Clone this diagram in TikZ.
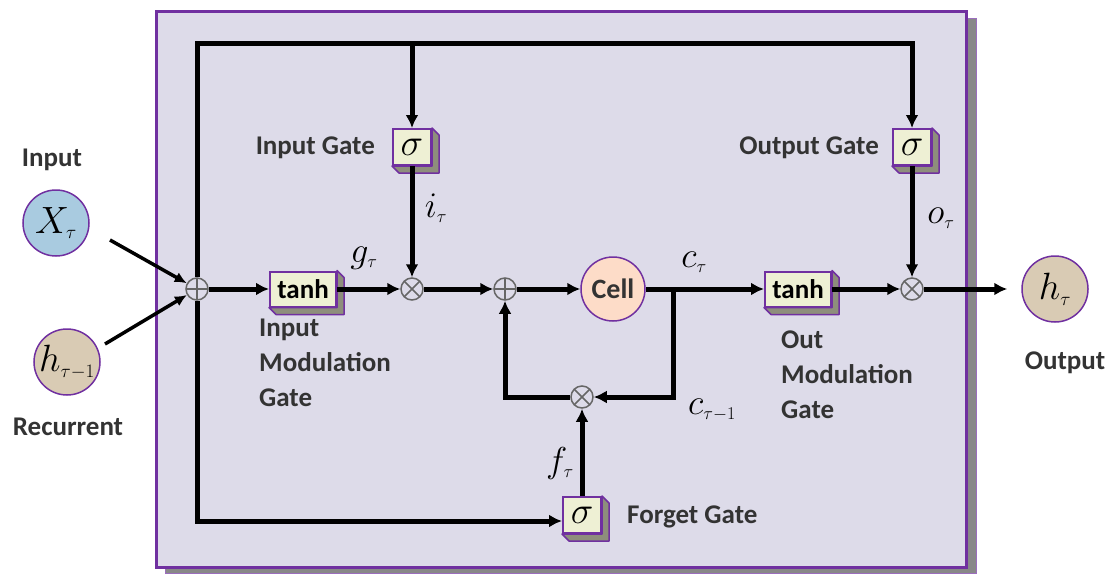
\documentclass[tikz,border=0pt]{standalone}
\usepackage{fix-cm}
\usepackage{fontspec}
\setmainfont{Carlito}
\usetikzlibrary{arrows.meta}
\definecolor{bg}{HTML}{DDDBE9}
\definecolor{purp}{HTML}{7030A0}
\definecolor{gatefill}{HTML}{EEF0D4}
\definecolor{gateshadow}{HTML}{8E8E7C}
\definecolor{boxshadow}{HTML}{888888}
\definecolor{xfill}{HTML}{A9CBE0}
\definecolor{hfill}{HTML}{D9CBB4}
\definecolor{cellfill}{HTML}{FDDCC8}
\newcommand\extrude[1]{\draw[draw=purp,line width=1.5pt,fill=gateshadow,line join=round]
  (#1.north east) -- ++(7,7) -- ([shift={(7,7)}]#1.south east) -- ([shift={(7,7)}]#1.south west) -- (#1.south west) -- (#1.south east) -- cycle;}
\begin{document}
\begin{tikzpicture}[x=1pt,y=-1pt,line join=miter,
  tip/.style={-{Latex[length=13pt,width=13pt]}},
  wire/.style={line width=5pt},
  arr/.style={wire,tip},
  inarr/.style={line width=3.5pt,-{Latex[length=12pt,width=11pt]}},
  gate/.style={draw=purp,line width=2pt,fill=gatefill,inner sep=0pt,font=\fontsize{27}{27}\selectfont\bfseries},
  sig/.style={gate,minimum width=38pt,minimum height=36pt,font=\fontsize{38}{38}\selectfont},
  tnh/.style={gate,minimum width=66pt,minimum height=35pt},
  op/.style={circle,draw=black!60,line width=1.5pt,fill=bg,minimum size=22pt,inner sep=0pt},
  plus/.style={op,path picture={\draw[black!60,line width=1.5pt] (path picture bounding box.north) -- (path picture bounding box.south) (path picture bounding box.west) -- (path picture bounding box.east);}},
  times/.style={op,path picture={\draw[black!60,line width=1.5pt] (path picture bounding box.north east) -- (path picture bounding box.south west) (path picture bounding box.north west) -- (path picture bounding box.south east);}},
  io/.style={circle,draw=purp,line width=1.5pt,minimum size=66pt,inner sep=0pt,font=\fontsize{38}{38}\selectfont},
  lbl/.style={font=\fontsize{27}{35}\selectfont\bfseries,text=black!80,inner sep=0pt,align=left},
  mlbl/.style={font=\fontsize{36}{36}\selectfont,inner sep=0pt},
]
\useasboundingbox (0,0) rectangle (1113,573);
% main box
\draw[fill=boxshadow,draw=purp!70,line width=1pt] (165,18) rectangle (976,573);
\draw[fill=bg,draw=purp,line width=3pt] (156,11) rectangle (966,567);

% operators
\node[plus] (s1) at (197,289) {};
\node[times] (m1) at (412,289) {};
\node[plus] (s2) at (505,289) {};
\node[times] (m3) at (582,397) {};
\node[times] (m2) at (912,289) {};

% gates
\node[tnh] (t1) at (303,289) {tanh}; \extrude{t1}
\node[tnh] (t2) at (798,289) {tanh}; \extrude{t2}
\node[sig] (ig) at (412,147) {$\sigma$}; \extrude{ig}
\node[sig] (og) at (912,147) {$\sigma$}; \extrude{og}
\node[sig] (fg) at (582,515) {$\sigma$}; \extrude{fg}

% cell and io
\node[circle,draw=purp,line width=1.5pt,fill=cellfill,minimum size=64pt,inner sep=0pt,font=\fontsize{28}{28}\selectfont\bfseries,text=black!80] (cell) at (613,289) {Cell};
\node[io,fill=xfill] (xin) at (56,223) {$X_{\scriptscriptstyle\tau}$};
\node[io,fill=hfill] (hin) at (67,362) {$h_{\scriptscriptstyle\tau-1}$};
\node[io,fill=hfill] (hout) at (1055,289) {$h_{\scriptscriptstyle\tau}$};

% coordinates
\coordinate (tl) at (197,43);
\coordinate (tr) at (912,43);
\coordinate (bl) at (197,521);
\coordinate (br) at (673,289);
\coordinate (bd) at (673,397);
\coordinate (lb) at (505,397);
\coordinate (xs) at (110,240);
\coordinate (hs) at (105,344);

% wires
\draw[inarr] (xs) -- (s1);
\draw[inarr] (hs) -- (s1);
\draw[arr] (s1) -- (t1);
\draw[arr] (t1) -- (m1);
\draw[arr] (m1) -- (s2);
\draw[arr] (s2) -- (cell);
\draw[arr] (cell) -- (t2);
\draw[arr] (t2) -- (m2);
\draw[arr,shorten >=14pt] (m2) -- (hout);
\draw[arr] (s1.north) -- (tl) -- (tr) -- (og.north);
\draw[arr] (ig.north |- tl) -- (ig.north);
\draw[arr] (s1.south) -- (bl) -- (fg.west |- bl);
\draw[arr] (ig) -- (m1);
\draw[arr] (og) -- (m2);
\draw[arr] (fg) -- (m3);
\draw[arr] (br) -- (bd) -- (m3);
\draw[arr] (m3) -- (lb) -- (s2);

% labels
\node[lbl,anchor=east] (lig) at (375,148) {Input Gate};
\node[lbl,anchor=east] (log) at (879,148) {Output Gate};
\node[lbl,anchor=west] (lfg) at (627,517) {Forget Gate};
\node[lbl,anchor=north west] (limg) at (259,319) {Input\\Modulation\\Gate};
\node[lbl,anchor=north west] (lomg) at (781,331) {Out\\Modulation\\Gate};
\node[lbl] (lin) at (52,160) {Input};
\node[lbl] (lrec) at (68,427) {Recurrent};
\node[lbl] (lout) at (1065,363) {Output};

\node[mlbl] (lg) at (364,258) {$g_{\scriptscriptstyle\tau}$};
\node[mlbl] (li) at (436,208) {$i_{\scriptscriptstyle\tau}$};
\node[mlbl] (lc) at (694,262) {$c_{\scriptscriptstyle\tau}$};
\node[mlbl] (lc1) at (712,410) {$c_{\scriptscriptstyle\tau-1}$};
\node[mlbl] (lo) at (941,218) {$o_{\scriptscriptstyle\tau}$};
\node[mlbl] (lf) at (560,463) {$f_{\scriptscriptstyle\tau}$};
\end{tikzpicture}
\end{document}
